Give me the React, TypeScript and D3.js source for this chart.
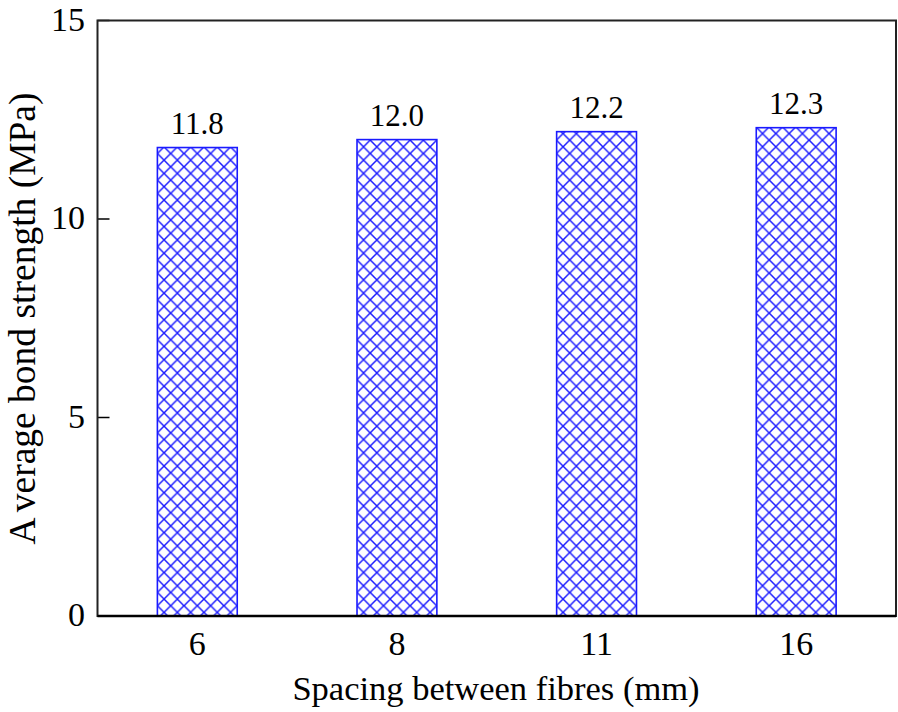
import React from "react";
import * as d3 from "d3";

const categories = ["6", "8", "11", "16"];
const values = [11.8, 12.0, 12.2, 12.3];
const labels = ["11.8", "12.0", "12.2", "12.3"];
const yTicks = [0, 5, 10, 15];

export default function App() {
  const W = 898, H = 712;
  const left = 97.5, right = 896, top = 20.5, bottom = 616;
  const x = d3.scaleBand<string>().domain(categories).range([left, right]).paddingInner(0.6).paddingOuter(0.3);
  const y = d3.scaleLinear().domain([0, 15]).range([bottom, top]);
  const font = "'Liberation Serif', 'Times New Roman', serif";
  const blue = "#1a1aff";
  const p = 13.3;
  return (
    <svg width={W} height={H} style={{ position: "absolute", left: 0, top: 0 }}>
      <defs>
        <pattern id="hatch" patternUnits="userSpaceOnUse" width={p} height={p} x={x("6") as number} y={top}>
          <path d={`M0,0L${p},${p}M${p},0L0,${p}`} stroke={blue} strokeWidth={1.5} />
        </pattern>
      </defs>
      <rect width={W} height={H} fill="white" />
      {categories.map((c, i) => (
        <g key={c}>
          <rect x={x(c)} y={y(values[i])} width={x.bandwidth()} height={bottom - y(values[i])} fill="url(#hatch)" stroke={blue} strokeWidth={1.6} />
          <text x={(x(c) as number) + x.bandwidth() / 2} y={y(values[i]) - 14} textAnchor="middle" fontFamily={font} fontSize={31}>{labels[i]}</text>
          <text x={(x(c) as number) + x.bandwidth() / 2} y={655} textAnchor="middle" fontFamily={font} fontSize={34}>{c}</text>
        </g>
      ))}
      {yTicks.map((t) => (
        <g key={t}>
          <line x1={left} x2={left + 12} y1={y(t)} y2={y(t)} stroke="black" strokeWidth={1.5} />
          <text x={85} y={y(t) + 10} textAnchor="end" fontFamily={font} fontSize={34}>{t}</text>
        </g>
      ))}
      <rect x={left} y={top} width={right - left} height={bottom - top} fill="none" stroke="#222" strokeWidth={2} />
      <line x1={left} x2={right} y1={bottom} y2={bottom} stroke="black" strokeWidth={2.5} />
      <text x={496} y={700} textAnchor="middle" fontFamily={font} fontSize={34.5}>Spacing between fibres (mm)</text>
      <text transform={`translate(35,318.5) rotate(-90)`} textAnchor="middle" fontFamily={font} fontSize={37.5}>
        <tspan>A</tspan><tspan dx={8}>verage bond strength (MPa)</tspan>
      </text>
    </svg>
  );
}
